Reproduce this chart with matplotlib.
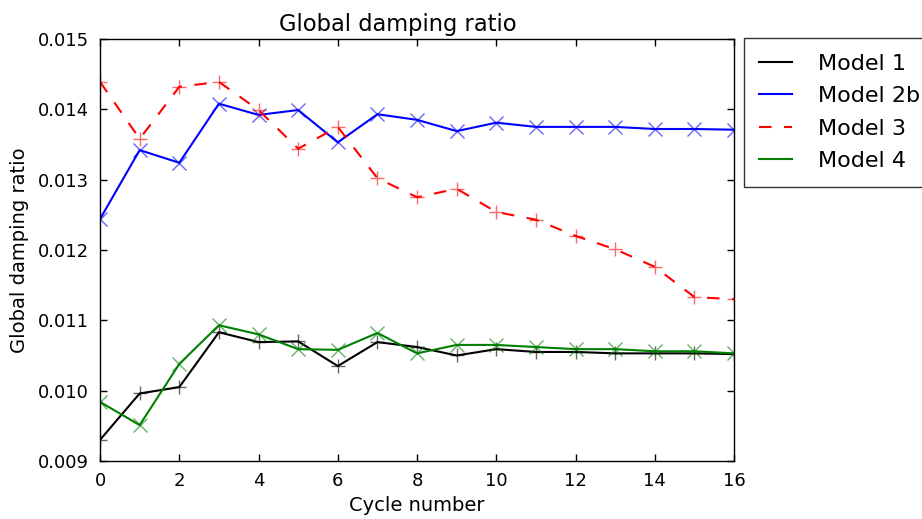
import numpy as np
import matplotlib
matplotlib.use('Agg')
import matplotlib.pyplot as plt

cycles = list(range(17))

model_1 = [0.00930, 0.00996, 0.01005, 0.01083, 0.01069, 0.01070, 0.01035, 0.01069,
           0.01062, 0.01050, 0.01059, 0.01055, 0.01055, 0.01053, 0.01053, 0.01053, 0.01052]
model_2b = [0.01244, 0.01342, 0.01324, 0.01408, 0.01392, 0.01399, 0.01353, 0.01393,
            0.01385, 0.01369, 0.01381, 0.01375, 0.01375, 0.01375, 0.01372, 0.01372, 0.01371]
model_3 = [0.01439, 0.01358, 0.01432, 0.01439, 0.01399, 0.01344, 0.01375, 0.01302,
           0.01275, 0.01287, 0.01254, 0.01243, 0.01220, 0.01201, 0.01176, 0.01133, 0.01130]
model_4 = [0.00984, 0.00951, 0.01038, 0.01093, 0.01080, 0.01059, 0.01058, 0.01082,
           0.01053, 0.01065, 0.01065, 0.01062, 0.01059, 0.01059, 0.01056, 0.01056, 0.01053]

series = [
    ('Model 1', model_1, 'k', '-', '+'),
    ('Model 2b', model_2b, 'b', '-', 'x'),
    ('Model 3', model_3, 'r', '--', '+'),
    ('Model 4', model_4, 'g', '-', 'x'),
]

fig = plt.figure(figsize=(9.22, 5.19), dpi=100)
ax = fig.add_axes([0.1085, 0.1118, 0.6877, 0.8131])

for label, values, color, ls, marker in series:
    ax.plot(cycles, values, color=color, linestyle=ls, linewidth=1.5,
            dashes=(6, 6) if ls == '--' else (None, None), label=label)
    # markers drawn separately so the legend shows plain lines
    ax.plot(cycles, values, color=color, linestyle='none', marker=marker,
            markersize=10, markeredgewidth=1.0, alpha=0.6)

ax.set_xlim(0, 16)
ax.set_ylim(0.009, 0.015)
ax.set_xticks(range(0, 17, 2))
ax.set_yticks(np.arange(0.009, 0.0151, 0.001))
ax.set_yticklabels(['0.009', '0.010', '0.011', '0.012', '0.013', '0.014', '0.015'])
ax.tick_params(direction='in', length=5, width=1, labelsize=13, top=True, right=True, pad=8)
for s in ax.spines.values():
    s.set_linewidth(1.0)

ax.set_title('Global damping ratio', fontsize=16.3, x=0.469)
ax.set_xlabel('Cycle number', fontsize=14, labelpad=4)
ax.set_ylabel('Global damping ratio', fontsize=14, labelpad=6)

leg = ax.legend(loc='upper left', bbox_to_anchor=(1.015, 1.002), borderaxespad=0,
                fontsize=16, handlelength=1.5, handletextpad=1.15, labelspacing=0.56,
                borderpad=0.7, fancybox=False, frameon=True)
leg.get_frame().set_edgecolor('black')
leg.get_frame().set_linewidth(1.0)

fig.savefig('out.png', dpi=100)
